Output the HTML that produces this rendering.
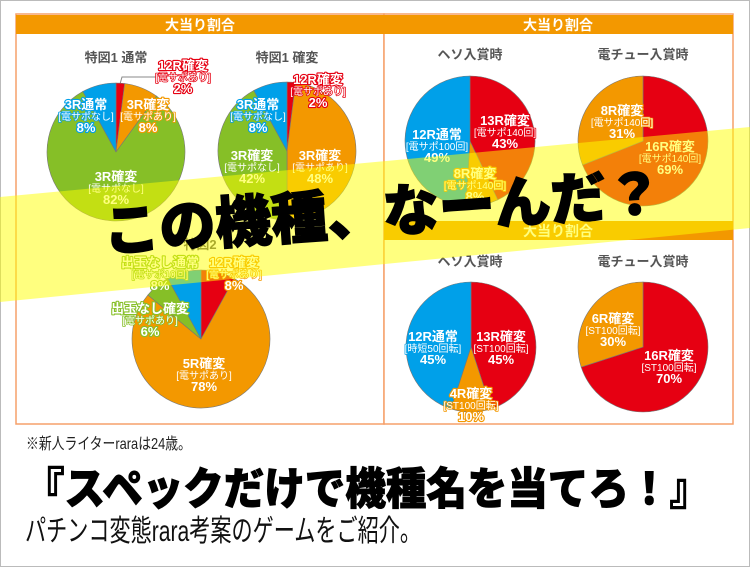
<!DOCTYPE html>
<html><head><meta charset="utf-8">
<style>
html,body{margin:0;padding:0;background:#fff;}
svg{display:block;font-family:"Liberation Sans","Noto Sans CJK JP",sans-serif;}
.lbl{font-weight:bold;fill:#fff;stroke-width:2.2px;paint-order:stroke;stroke-linejoin:round;text-anchor:middle;}
.ttl{font-size:13px;font-weight:bold;fill:#555;text-anchor:middle;}
.hdr{font-size:14px;font-weight:bold;fill:#fff;text-anchor:middle;}
</style></head>
<body>
<svg id="chart" width="750" height="567" viewBox="0 0 750 567">
  <rect x="0.5" y="0.5" width="749" height="566" fill="#fff" stroke="#bbb"/>
  <rect x="16" y="14" width="368" height="410" fill="#fff" stroke="#f6a06a" stroke-width="1.5"/>
  <rect x="384" y="14" width="349" height="410" fill="#fff" stroke="#f6a06a" stroke-width="1.5"/>
  <rect x="16" y="15" width="368" height="19" fill="#f39800"/>
  <text class="hdr" x="200" y="30">大当り割合</text>
  <rect x="384" y="15" width="349" height="19" fill="#f39800"/>
  <text class="hdr" x="558" y="30">大当り割合</text>
  <rect x="384" y="221" width="349" height="19" fill="#f39800"/>
  <text class="hdr" x="558" y="236">大当り割合</text>

  <text class="ttl" x="116" y="62">特図1 通常</text>
  <text class="ttl" x="287" y="62">特図1 確変</text>
  <text class="ttl" x="200" y="249">特図2</text>
  <text class="ttl" x="470" y="59">ヘソ入賞時</text>
  <text class="ttl" x="643" y="59">電チュー入賞時</text>
  <text class="ttl" x="470" y="266">ヘソ入賞時</text>
  <text class="ttl" x="643" y="266">電チュー入賞時</text>
  <polyline points="120,84 122,77 156,77" fill="none" stroke="#888" stroke-width="1"/>
  <g id="pies"></g>
  <g id="labels"></g>
  <polygon points="0,197 750,127 750,228 0,302" fill="rgba(255,255,0,0.5)"/>
  <text x="383" y="232" transform="rotate(-4 383 213)" text-anchor="middle" font-size="56" font-weight="900" fill="#000" stroke="#000" stroke-width="1.5">この機種、なーんだ？</text>
  <text x="26" y="449" font-size="16" fill="#222" textLength="165" lengthAdjust="spacingAndGlyphs">※新人ライターraraは24歳。</text>
  <text x="24" y="504" font-size="44" font-weight="900" fill="#000" stroke="#000" stroke-width="1" textLength="686" lengthAdjust="spacingAndGlyphs">『スペックだけで機種名を当てろ！』</text>
  <text x="25" y="541" font-size="30" fill="#111" textLength="396" lengthAdjust="spacingAndGlyphs">パチンコ変態rara考案のゲームをご紹介。</text>
</svg>
<script>
const C={red:"#e60012",orange:"#f39800",green:"#86bf27",blue:"#00a0e9"};
const pie1Values=[2,8,82,8];
const pie1Colors=["red","orange","green","blue"];
const pie2Values=[2,48,42,8];
const pie2Colors=["red","orange","green","blue"];
const pie3Values=[8,78,6,8];
const pie3Colors=["red","orange","green","blue"];
const pie4Values=[43,8,49];
const pie4Colors=["red","orange","blue"];
const pie5Values=[69,31];
const pie5Colors=["red","orange"];
const pie6Values=[45,10,45];
const pie6Colors=["red","orange","blue"];
const pie7Values=[70,30];
const pie7Colors=["red","orange"];
const pies=[
 {id:"pie1",cx:116,cy:152,r:69,v:pie1Values,c:pie1Colors},
 {id:"pie2",cx:287,cy:151,r:69,v:pie2Values,c:pie2Colors},
 {id:"pie3",cx:201,cy:339,r:69,v:pie3Values,c:pie3Colors},
 {id:"pie4",cx:470,cy:141,r:65,v:pie4Values,c:pie4Colors},
 {id:"pie5",cx:643,cy:141,r:65,v:pie5Values,c:pie5Colors},
 {id:"pie6",cx:471,cy:347,r:65,v:pie6Values,c:pie6Colors},
 {id:"pie7",cx:643,cy:347,r:65,v:pie7Values,c:pie7Colors}
];
const NS="http://www.w3.org/2000/svg";
const gp=document.getElementById("pies");
function angle(frac){return frac*2*Math.PI-Math.PI/2;}
pies.forEach(p=>{
  const tot=p.v.reduce((a,b)=>a+b,0);let acc=0;
  p.v.forEach((val,i)=>{
    const a0=angle(acc/tot);acc+=val;const a1=angle(acc/tot);
    const x0=p.cx+p.r*Math.cos(a0),y0=p.cy+p.r*Math.sin(a0);
    const x1=p.cx+p.r*Math.cos(a1),y1=p.cy+p.r*Math.sin(a1);
    const large=(a1-a0)>Math.PI?1:0;
    const path=document.createElementNS(NS,"path");
    path.setAttribute("d",`M${p.cx},${p.cy}L${x0},${y0}A${p.r},${p.r} 0 ${large} 1 ${x1},${y1}Z`);
    path.setAttribute("fill",C[p.c[i]]);
    path.setAttribute("stroke","#777");
    path.setAttribute("stroke-width","0.6");
    
    
    gp.appendChild(path);
  });
});
const labelNames=[["12R確変","[電サポあり]","2%"],["3R確変","[電サポあり]","8%"],["3R確変","[電サポなし]","82%"],["3R通常","[電サポなし]","8%"],
["12R確変","[電サポあり]","2%"],["3R確変","[電サポあり]","48%"],["3R確変","[電サポなし]","42%"],["3R通常","[電サポなし]","8%"],
["12R確変","[電サポあり]","8%"],["5R確変","[電サポあり]","78%"],["出玉なし確変","[電サポあり]","6%"],["出玉なし通常","[電サポ10回]","8%"],
["13R確変","[電サポ140回]","43%"],["8R確変","[電サポ140回]","8%"],["12R通常","[電サポ100回]","49%"],
["16R確変","[電サポ140回]","69%"],["8R確変","[電サポ140回]","31%"],
["13R確変","[ST100回転]","45%"],["4R確変","[ST100回転]","10%"],["12R通常","[時短50回転]","45%"],
["16R確変","[ST100回転]","70%"],["6R確変","[ST100回転]","30%"]];
const labelPos=[[183,70,"red"],[148,109,"orange"],[116,181,"green"],[86,109,"blue"],
[318,84,"red"],[320,160,"orange"],[252,160,"green"],[258,109,"blue"],
[234,267,"orange"],[204,368,"orange"],[150,313,"green"],[160,267,"green"],
[505,125,"red"],[475,178,"orange"],[437,139,"blue"],
[670,151,"red"],[622,115,"orange"],
[501,341,"red"],[471,398,"orange"],[433,341,"blue"],
[669,360,"red"],[613,323,"orange"]];
const gl=document.getElementById("labels");
labelNames.forEach((l,i)=>{
  const [x,y,col]=labelPos[i];
  const t=document.createElementNS(NS,"text");
  t.setAttribute("class","lbl");t.setAttribute("stroke",C[col]);
  
  
  [[l[0],0,13],[l[1],11,10],[l[2],23,13]].forEach(([s,dy,fs])=>{
    const ts=document.createElementNS(NS,"tspan");
    ts.setAttribute("x",x);ts.setAttribute("y",y+dy);ts.setAttribute("font-size",fs);
    if(fs===10){ts.setAttribute("font-weight","normal");ts.setAttribute("stroke-width","1.5");}
    ts.textContent=s;t.appendChild(ts);
  });
  gl.appendChild(t);
});
</script>
</body></html>
